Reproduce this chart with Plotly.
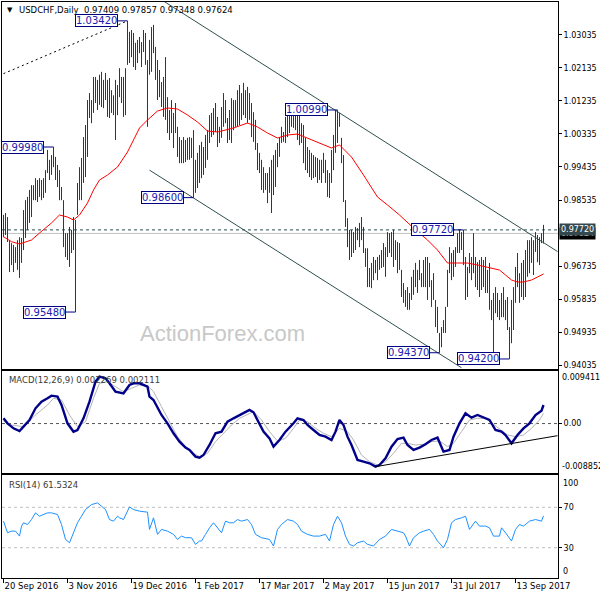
import plotly.graph_objects as go

# ---------------- data ----------------
highs = [
    0.9813, 0.9818, 0.9807, 0.9744, 0.9736, 0.9731, 0.9725, 0.9744, 0.9752, 0.9750,
    0.9826, 0.9853, 0.9862, 0.9881, 0.9894, 0.9894, 0.9913, 0.9908, 0.9913, 0.9908,
    0.9913, 0.9935, 0.9990, 0.9963, 0.9976, 0.9998, 0.9971, 0.9949, 0.9935, 0.9889,
    0.9853, 0.9763, 0.9763, 0.9780, 0.9772, 0.9807, 0.9799,
    0.9900, 0.9943, 0.9968, 1.0025, 1.0058, 1.0126, 1.0145, 1.0126, 1.0189, 1.0189,
    1.0181, 1.0195, 1.0203, 1.0181, 1.0200, 1.0181, 1.0186, 1.0153, 1.0139, 1.0181,
    1.0167, 1.0213, 1.0189, 1.0189, 1.0213, 1.0342, 1.0312, 1.0317, 1.0309, 1.0282,
    1.0290, 1.0298, 1.0284, 1.0317, 1.0309, 1.0235, 1.0290, 1.0325, 1.0331, 1.0271,
    1.0235, 1.0208, 1.0175, 1.0189, 1.0243, 1.0134, 1.0099, 1.0126, 1.0091, 1.0118,
    1.0053, 1.0025, 1.0017, 1.0025, 1.0017, 1.0023, 1.0025, 1.0023, 1.0044, 0.9963,
    0.9982, 1.0003, 1.0012, 0.9998, 1.0031, 1.0044, 1.0085, 1.0091, 1.0104, 1.0118,
    1.0080, 1.0053, 1.0107, 1.0145, 1.0126, 1.0077, 1.0099, 1.0131, 1.0126, 1.0126,
    1.0153, 1.0167, 1.0145, 1.0173, 1.0153, 1.0162, 1.0145, 1.0118, 1.0093, 1.0072,
    1.0009, 0.9982, 0.9963, 0.9943, 0.9927, 0.9927, 0.9943, 0.9963, 0.9976, 0.9990,
    1.0009, 1.0025, 1.0053, 1.0039, 1.0080, 1.0093, 1.0113, 1.0118, 1.0113, 1.0107,
    1.0107, 1.0091, 1.0063, 1.0058, 1.0023, 0.9998, 0.9990, 0.9982, 0.9976, 0.9971,
    0.9968, 0.9963, 0.9963, 0.9982, 0.9963, 0.9935, 0.9927, 0.9990, 1.0031, 1.0099,
    1.0099, 1.0091, 1.0023,
    0.9976, 0.9853, 0.9804, 0.9772, 0.9772, 0.9766, 0.9780, 0.9777, 0.9791, 0.9807,
    0.9780, 0.9722, 0.9722, 0.9668, 0.9682, 0.9698, 0.9690, 0.9698, 0.9704, 0.9717,
    0.9736, 0.9725, 0.9766, 0.9763, 0.9766, 0.9772, 0.9744, 0.9739, 0.9736, 0.9663,
    0.9627, 0.9608, 0.9616, 0.9600, 0.9644, 0.9663, 0.9682, 0.9663, 0.9690, 0.9654,
    0.9690, 0.9698, 0.9698, 0.9682, 0.9635, 0.9654, 0.9581, 0.9562, 0.9491, 0.9507,
    0.9526, 0.9562, 0.9663, 0.9725, 0.9709, 0.9717, 0.9725, 0.9763, 0.9772, 0.9766,
    0.9772, 0.9698, 0.9671, 0.9709, 0.9698, 0.9763, 0.9698, 0.9684, 0.9690, 0.9698,
    0.9690, 0.9698, 0.9663, 0.9682, 0.9581, 0.9600, 0.9616, 0.9600, 0.9581, 0.9600,
    0.9616, 0.9581, 0.9589, 0.9507, 0.9581, 0.9616, 0.9671, 0.9709, 0.9654, 0.9682,
    0.9690, 0.9717, 0.9744, 0.9744, 0.9752, 0.9744, 0.9766, 0.9758, 0.9752, 0.9763, 0.97857,
]
lows = [
    0.9752, 0.9758, 0.9739, 0.9657, 0.9676, 0.9657, 0.9682, 0.9663, 0.9641, 0.9682,
    0.9717, 0.9750, 0.9772, 0.9791, 0.9807, 0.9853, 0.9853, 0.9848, 0.9862, 0.9853,
    0.9859, 0.9873, 0.9927, 0.9908, 0.9922, 0.9943, 0.9908, 0.9889, 0.9853, 0.9853,
    0.9725, 0.9698, 0.9690, 0.9671, 0.9709, 0.9717, 0.9548,
    0.9813, 0.9853, 0.9853, 0.9900, 0.9916, 0.9971, 1.0077, 1.0063, 1.0091, 1.0118,
    1.0099, 1.0113, 1.0107, 1.0104, 1.0126, 1.0080, 1.0077, 1.0091, 1.0085, 1.0017,
    1.0085, 1.0134, 1.0118, 1.0080, 1.0085, 1.0222, 1.0227, 1.0243, 1.0216, 1.0208,
    1.0227, 1.0254, 1.0216, 1.0257, 1.0222, 1.0053, 1.0195, 1.0203, 1.0254, 1.0181,
    1.0126, 1.0134, 1.0107, 1.0080, 1.0072, 1.0036, 1.0017, 1.0036, 0.9995, 1.0036,
    0.9971, 0.9954, 0.9954, 0.9954, 0.9957, 0.9963, 0.9963, 0.9968, 0.9860, 0.9873,
    0.9886, 0.9900, 0.9913, 0.9922, 0.9941, 0.9963, 1.0009, 1.0025, 1.0031, 1.0039,
    0.9998, 1.0009, 1.0023, 1.0053, 1.0063, 1.0009, 1.0017, 1.0009, 1.0044, 1.0053,
    1.0053, 1.0058, 1.0072, 1.0085, 1.0077, 1.0063, 1.0072, 1.0025, 1.0012, 0.9990,
    0.9935, 0.9927, 0.9881, 0.9873, 0.9881, 0.9845, 0.9873, 0.9818, 0.9867, 0.9889,
    0.9943, 0.9971, 1.0009, 1.0012, 1.0009, 1.0025, 1.0036, 1.0053, 1.0050, 1.0044,
    1.0017, 1.0003, 1.0009, 0.9954, 0.9935, 0.9927, 0.9916, 0.9908, 0.9913, 0.9916,
    0.9900, 0.9908, 0.9900, 0.9927, 0.9900, 0.9862, 0.9859, 0.9900, 0.9935, 0.9982,
    1.0009, 1.0053, 0.9954,
    0.9848, 0.9780, 0.9725, 0.9690, 0.9698, 0.9709, 0.9717, 0.9744, 0.9725, 0.9744,
    0.9709, 0.9671, 0.9616, 0.9616, 0.9613, 0.9635, 0.9654, 0.9635, 0.9663, 0.9668,
    0.9671, 0.9644, 0.9698, 0.9709, 0.9698, 0.9671, 0.9690, 0.9654, 0.9663, 0.9589,
    0.9573, 0.9562, 0.9554, 0.9554, 0.9581, 0.9595, 0.9616, 0.9600, 0.9635, 0.9616,
    0.9616, 0.9616, 0.9581, 0.9616, 0.9562, 0.9581, 0.9507, 0.9491, 0.9437, 0.9452,
    0.9491, 0.9491, 0.9562, 0.9654, 0.9635, 0.9644, 0.9671, 0.9709, 0.9709, 0.9717,
    0.9676, 0.9581, 0.9589, 0.9654, 0.9635, 0.9654, 0.9616, 0.9608, 0.9589, 0.9608,
    0.9616, 0.9600, 0.9600, 0.9554, 0.9526, 0.9425, 0.9545, 0.9534, 0.9526, 0.9534,
    0.9534, 0.9526, 0.9499, 0.9420, 0.9463, 0.9499, 0.9573, 0.9616, 0.9573, 0.9589,
    0.9581, 0.9589, 0.9644, 0.9654, 0.9682, 0.9649, 0.9712, 0.9684, 0.9676, 0.9736, 0.97348,
]

ma_bar = [0, 4, 8, 14, 18, 24, 28, 32, 35, 38, 42, 45, 48, 52, 57, 62, 65, 68, 72, 77,
          82, 87, 92, 97, 102, 107, 115, 122, 127, 132, 137, 142, 147, 152, 158, 164, 168, 174, 180, 187,
          192, 198, 205, 212, 217, 222, 227, 232, 237, 244, 248, 254, 257, 260, 264, 267, 270]
ma_val = [0.97534, 0.97398, 0.97335, 0.97444, 0.97635, 0.97908, 0.98126, 0.98071, 0.97989, 0.98126,
          0.98453, 0.98807, 0.99080, 0.99216, 0.99435, 0.99844, 1.00171, 1.00498, 1.00716, 1.00962,
          1.01044, 1.01016, 1.00853, 1.00662, 1.00416, 1.00389, 1.00498, 1.00635, 1.00525, 1.00362,
          1.00225, 1.00307, 1.00334, 1.00225, 1.00089, 0.99953, 1.00035, 0.99707, 0.99216, 0.98616,
          0.98399, 0.98126, 0.97771, 0.97444, 0.97171, 0.96817, 0.96817, 0.96817, 0.96762, 0.96681,
          0.96626, 0.96353, 0.96299, 0.96299, 0.96353, 0.96435, 0.96517]

macd_bar = [0, 2, 5, 8, 10, 13, 16, 19, 22, 24, 27, 29, 32, 35, 37, 40, 43, 46, 48, 51,
            53, 56, 60, 63, 65, 68, 72, 73, 75, 77, 79, 82, 85, 88, 91, 93, 96, 98, 100, 103,
            106, 109, 112, 115, 118, 121, 123, 125, 127, 130, 133, 135, 138, 141, 145, 147, 150, 152, 155, 158,
            161, 164, 166, 168, 170, 172, 174, 177, 180, 183, 186, 188, 191, 194, 197, 200, 202, 205, 208, 211,
            214, 217, 220, 223, 225, 228, 231, 234, 237, 240, 243, 246, 249, 251, 254, 257, 260, 263, 266, 269, 270]
macd_val = [0.000936, 0.000041, -0.000854, -0.001332, -0.000556, 0.000638, 0.002727, 0.003920, 0.004517, 0.004994,
            0.004815, 0.003323, 0.000041, -0.001451, -0.001153, 0.000936, 0.003920, 0.007501, 0.008396, 0.008098,
            0.007203, 0.005711, 0.005412, 0.006904, 0.007203, 0.007203, 0.006606, 0.004815, 0.004219, 0.002727,
            0.001533, 0.000041, -0.001749, -0.003241, -0.004316, -0.004733, -0.005927, -0.006106, -0.005629, -0.003838,
            -0.001749, -0.001451, 0.000339, 0.000936, 0.001533, 0.002130, 0.002428, 0.002011, 0.000638, -0.001451,
            -0.002645, -0.004137, -0.002943, -0.001451, 0.000041, 0.000936, 0.000638, -0.000257, -0.001153, -0.002048,
            -0.002346, -0.002943, -0.001451, 0.000638, -0.000257, -0.002346, -0.003838, -0.006524, -0.006822, -0.007121,
            -0.007717, -0.007419, -0.006225, -0.004137, -0.002764, -0.002525, -0.003838, -0.004733, -0.004316, -0.003719,
            -0.002943, -0.002525, -0.005032, -0.004733, -0.002346, 0.000041, 0.001832, 0.001056, 0.001533, 0.001056,
            0.000638, -0.001153, -0.001451, -0.002048, -0.003540, -0.002048, -0.000854, 0.000041, 0.001533, 0.002309,
            0.003323]

sig_bar = [0, 4, 10, 16, 22, 25, 29, 33, 37, 41, 45, 48, 52, 56, 60, 64, 68, 72, 75, 79,
           83, 87, 91, 95, 98, 102, 106, 110, 114, 118, 122, 125, 129, 133, 137, 141, 145, 148, 152, 156,
           160, 164, 168, 172, 175, 179, 183, 187, 191, 195, 199, 202, 206, 210, 214, 218, 222, 225, 229, 233,
           237, 241, 245, 249, 252, 256, 260, 264, 268, 270]
sig_val = [0.000459, -0.000257, -0.000556, 0.001533, 0.003323, 0.004517, 0.004219, 0.001533, -0.000556, 0.000339,
           0.004517, 0.007203, 0.007501, 0.006606, 0.005711, 0.006307, 0.006904, 0.006785, 0.005711, 0.003025,
           0.000339, -0.002346, -0.004137, -0.005330, -0.005927, -0.005330, -0.003241, -0.001749, -0.000257, 0.000936,
           0.001653, 0.002130, 0.000638, -0.001451, -0.003122, -0.002645, -0.000854, 0.000638, 0.000339, -0.000854,
           -0.001749, -0.002346, -0.000854, -0.001451, -0.002943, -0.005629, -0.006822, -0.007419, -0.006822, -0.005330,
           -0.003540, -0.003540, -0.003838, -0.003719, -0.003241, -0.003122, -0.004137, -0.003540, -0.001451, 0.000638,
           0.000936, 0.000936, -0.000138, -0.001153, -0.002048, -0.002346, -0.002048, -0.000854, 0.000638, 0.001832]

rsi_bar = [0, 2, 4, 6, 8, 9, 10, 12, 14, 16, 18, 20, 22, 24, 27, 29, 31, 33, 35, 37,
           39, 41, 44, 47, 49, 51, 53, 55, 57, 58, 60, 63, 65, 68, 72, 73, 75, 77, 79, 82,
           85, 87, 89, 91, 94, 96, 98, 99, 101, 103, 105, 107, 109, 111, 113, 115, 117, 119, 122, 124,
           126, 129, 133, 135, 137, 139, 142, 145, 147, 149, 152, 155, 158, 161, 163, 165, 167, 169, 171, 173,
           175, 177, 180, 182, 185, 188, 191, 194, 197, 200, 201, 203, 205, 208, 210, 213, 215, 217, 220, 222,
           224, 226, 229, 231, 233, 236, 238, 241, 243, 245, 248, 249, 251, 254, 256, 258, 260, 263, 266, 269, 270]
rsi_val = [56.3, 44.8, 46.4, 46.4, 41.5, 51.4, 54.7, 53.0, 57.9, 64.5, 61.2, 62.9, 64.5, 64.5, 62.9, 53.0, 38.2, 34.9, 44.8, 54.7,
           61.2, 67.8, 72.7, 74.4, 71.1, 67.8, 57.9, 56.3, 61.2, 59.6, 57.9, 70.4, 67.8, 66.2, 65.2, 48.1, 59.6, 43.2, 48.1, 46.4,
           43.2, 38.2, 41.5, 39.9, 39.9, 33.3, 36.6, 36.6, 43.2, 49.7, 54.7, 49.7, 44.8, 56.3, 54.7, 54.7, 57.9, 56.3, 57.9, 53.0,
           43.2, 39.9, 38.2, 31.7, 48.1, 53.0, 57.9, 56.3, 53.0, 46.4, 43.2, 41.5, 41.5, 43.2, 36.6, 53.0, 61.2, 54.7, 41.5, 33.3,
           31.7, 34.9, 36.6, 33.3, 31.7, 38.2, 41.5, 48.1, 46.4, 44.8, 41.5, 31.7, 39.9, 44.8, 46.4, 48.1, 43.2, 36.6, 30.0, 38.2,
           54.7, 57.9, 59.6, 61.2, 48.1, 56.3, 51.4, 51.4, 49.7, 41.5, 41.5, 49.7, 44.8, 36.6, 48.1, 53.0, 51.4, 56.3, 57.9, 56.3, 61.5324]

# swing labels
label_bar = [62, 25, 95, 36, 167, 230, 218, 253]
label_price = [1.03420, 0.99980, 0.98600, 0.95480, 1.00990, 0.97720, 0.94370, 0.94200]

# trend lines (two points each)
dot_bar, dot_price = [0, 62], [1.0198, 1.0342]
up_bar, up_price = [80, 277], [1.0396, 0.9713]
low_bar, low_price = [73, 229], [0.9935, 0.9396]
mtl_bar, mtl_val = [186, 277], [-0.00772, -0.00217]

level_price = 0.97720
bid_price = 0.97624

price_ticks = [1.03035, 1.02135, 1.01235, 1.00335, 0.99435, 0.98535, 0.96735, 0.95835, 0.94935, 0.94035]
date_bar = [0, 32, 64, 96, 128, 160, 192, 224, 256]
date_text = ["20 Sep 2016", "3 Nov 2016", "19 Dec 2016", "1 Feb 2017", "17 Mar 2017",
             "2 May 2017", "15 Jun 2017", "31 Jul 2017", "13 Sep 2017"]

title_text = "USDCHF,Daily  0.97409 0.97857 0.97348 0.97624"
macd_text = "MACD(12,26,9) 0.002269 0.002111"
rsi_text = "RSI(14) 61.5324"

# ---------------- figure ----------------
FONT = "DejaVu Sans"
XR = [-0.75, 277.25]
BAR_COL = "#1b3d55"

fig = go.Figure()

# horizontal level lines
fig.add_trace(go.Scatter(x=XR, y=[bid_price, bid_price], mode="lines",
                         line=dict(color="#c0c0c0", width=1), xaxis="x", yaxis="y", hoverinfo="skip"))
fig.add_trace(go.Scatter(x=XR, y=[level_price, level_price], mode="lines",
                         line=dict(color="#2f4f4f", width=1, dash="3px,3px"), xaxis="x", yaxis="y", hoverinfo="skip"))

# bars (high-low)
bx, by = [], []
for i, (h, l) in enumerate(zip(highs, lows)):
    bx += [i, i, None]
    by += [l, h, None]
fig.add_trace(go.Scatter(x=bx, y=by, mode="lines", line=dict(color=BAR_COL, width=1),
                         xaxis="x", yaxis="y", hoverinfo="skip"))

# moving average
fig.add_trace(go.Scatter(x=ma_bar, y=ma_val, mode="lines", line=dict(color="#ff0000", width=1),
                         xaxis="x", yaxis="y", hoverinfo="skip"))

# trend lines
fig.add_trace(go.Scatter(x=dot_bar, y=dot_price, mode="lines",
                         line=dict(color="black", width=1, dash="2px,3px"), xaxis="x", yaxis="y"))
fig.add_trace(go.Scatter(x=up_bar, y=up_price, mode="lines",
                         line=dict(color="#2f4f4f", width=1), xaxis="x", yaxis="y"))
fig.add_trace(go.Scatter(x=low_bar, y=low_price, mode="lines",
                         line=dict(color="#2f4f4f", width=1), xaxis="x", yaxis="y"))

# label connectors
cx, cy = [], []
for b, p in zip(label_bar, label_price):
    cx += [b - 5, b, None]
    cy += [p, p, None]
fig.add_trace(go.Scatter(x=cx, y=cy, mode="lines", line=dict(color="#000080", width=1),
                         xaxis="x", yaxis="y"))

# MACD panel
fig.add_trace(go.Scatter(x=XR, y=[0, 0], mode="lines",
                         line=dict(color="#555555", width=1, dash="3px,3px"), xaxis="x2", yaxis="y2"))
fig.add_trace(go.Scatter(x=sig_bar, y=sig_val, mode="lines", line=dict(color="#b4b4b4", width=1),
                         xaxis="x2", yaxis="y2"))
fig.add_trace(go.Scatter(x=macd_bar, y=macd_val, mode="lines", line=dict(color="#00008b", width=2.4),
                         xaxis="x2", yaxis="y2"))
fig.add_trace(go.Scatter(x=mtl_bar, y=mtl_val, mode="lines", line=dict(color="black", width=1),
                         xaxis="x2", yaxis="y2"))

# RSI panel
for lv in (70, 30):
    fig.add_trace(go.Scatter(x=XR, y=[lv, lv], mode="lines",
                             line=dict(color="#c0c0c0", width=1, dash="3px,3px"), xaxis="x3", yaxis="y3"))
fig.add_trace(go.Scatter(x=rsi_bar, y=rsi_val, mode="lines", line=dict(color="#1e90ff", width=1),
                         xaxis="x3", yaxis="y3"))

# ---------------- layout ----------------
def px_x(px):
    return (px - 2) / 556.0


def px_y(py):
    return (578 - py) / 576.0


axis_line = dict(showline=True, linecolor="black", linewidth=1, mirror=True,
                 showgrid=False, zeroline=False, automargin=False, fixedrange=True)

annotations = []
annotations.append(dict(x=px_x(5), y=px_y(10.5), xref="paper", yref="paper", text="▼",
                        showarrow=False, xanchor="left", yanchor="middle",
                        font=dict(family=FONT, size=7, color="black")))
annotations.append(dict(x=px_x(17), y=px_y(10.5), xref="paper", yref="paper", text=title_text,
                        showarrow=False, xanchor="left", yanchor="middle",
                        font=dict(family=FONT, size=8.5, color="black")))
annotations.append(dict(x=px_x(6.5), y=px_y(380), xref="paper", yref="paper", text=macd_text,
                        showarrow=False, xanchor="left", yanchor="middle",
                        font=dict(family=FONT, size=8.5, color="#3a3a3a")))
annotations.append(dict(x=px_x(6.5), y=px_y(485), xref="paper", yref="paper", text=rsi_text,
                        showarrow=False, xanchor="left", yanchor="middle",
                        font=dict(family=FONT, size=8.5, color="#3a3a3a")))
annotations.append(dict(x=px_x(222), y=px_y(333), xref="paper", yref="paper", text="ActionForex.com",
                        showarrow=False, xanchor="center", yanchor="middle",
                        font=dict(family="Liberation Sans", size=22, color="#c8c8c8")))
for b, p in zip(label_bar, label_price):
    annotations.append(dict(x=b - 5, y=p, xref="x", yref="y", text=f"{p:.5f}", showarrow=False,
                            xanchor="right", yanchor="middle",
                            font=dict(family=FONT, size=10, color="#2020b0"),
                            bgcolor="white", bordercolor="#000080", borderwidth=1, borderpad=0))
annotations.append(dict(x=1, y=bid_price, xref="paper", yref="y", text=f"{bid_price:.5f}", showarrow=False,
                        xanchor="left", yanchor="middle", xshift=1,
                        font=dict(family=FONT, size=8, color="white"), bgcolor="black", borderpad=1))
annotations.append(dict(x=1, y=level_price, xref="paper", yref="y", text=f"{level_price:.5f}", showarrow=False,
                        xanchor="left", yanchor="middle", xshift=1,
                        font=dict(family=FONT, size=8, color="white"), bgcolor="#34494f", borderpad=1))
annotations.append(dict(x=1, y=0.009411, xref="paper", yref="y2", text="0.009411", showarrow=False,
                        xanchor="left", yanchor="top", xshift=2, font=dict(family=FONT, size=8, color="black")))
annotations.append(dict(x=1, y=-0.008852, xref="paper", yref="y2", text="-0.008852", showarrow=False,
                        xanchor="left", yanchor="bottom", xshift=2, font=dict(family=FONT, size=8, color="black")))
annotations.append(dict(x=1, y=100, xref="paper", yref="y3", text="100", showarrow=False,
                        xanchor="left", yanchor="top", xshift=3, font=dict(family=FONT, size=8, color="black")))
annotations.append(dict(x=1, y=0, xref="paper", yref="y3", text="0", showarrow=False,
                        xanchor="left", yanchor="bottom", xshift=3, font=dict(family=FONT, size=8, color="black")))

fig.update_layout(
    template="none",
    width=600, height=600,
    margin=dict(l=2, r=42, t=2, b=22, pad=0),
    paper_bgcolor="white", plot_bgcolor="white",
    showlegend=False,
    font=dict(family=FONT, size=8, color="black"),
    annotations=annotations,
    xaxis=dict(range=XR, anchor="y", showticklabels=False, ticks="", **axis_line),
    xaxis2=dict(range=XR, anchor="y2", showticklabels=False, ticks="", **axis_line),
    xaxis3=dict(range=XR, anchor="y3", tickvals=date_bar, ticktext=date_text,
                ticks="outside", ticklen=4, tickcolor="black",
                ticklabelposition="outside right",
                tickfont=dict(family=FONT, size=8.5, color="black"), **axis_line),
    yaxis=dict(domain=[0.3628, 1.0], range=[0.93926, 1.03934], side="right", anchor="x",
               tickvals=price_ticks, ticktext=[f"{v:.5f}" for v in price_ticks],
               ticks="outside", ticklen=3, tickcolor="black",
               tickfont=dict(family=FONT, size=8, color="black"), **axis_line),
    yaxis2=dict(domain=[0.1823, 0.3594], range=[-0.008852, 0.009411], side="right", anchor="x2",
                tickvals=[0], ticktext=["0.00"], ticks="outside", ticklen=3, tickcolor="black",
                tickfont=dict(family=FONT, size=8, color="black"), **axis_line),
    yaxis3=dict(domain=[0.0, 0.1788], range=[0, 102], side="right", anchor="x3",
                tickvals=[70, 30], ticktext=["70", "30"], ticks="outside", ticklen=3, tickcolor="black",
                tickfont=dict(family=FONT, size=8, color="black"), **axis_line),
)

fig.write_html("out.html", config={"displayModeBar": False},
               post_script="document.body.style.margin='0';document.body.style.overflow='hidden';")
